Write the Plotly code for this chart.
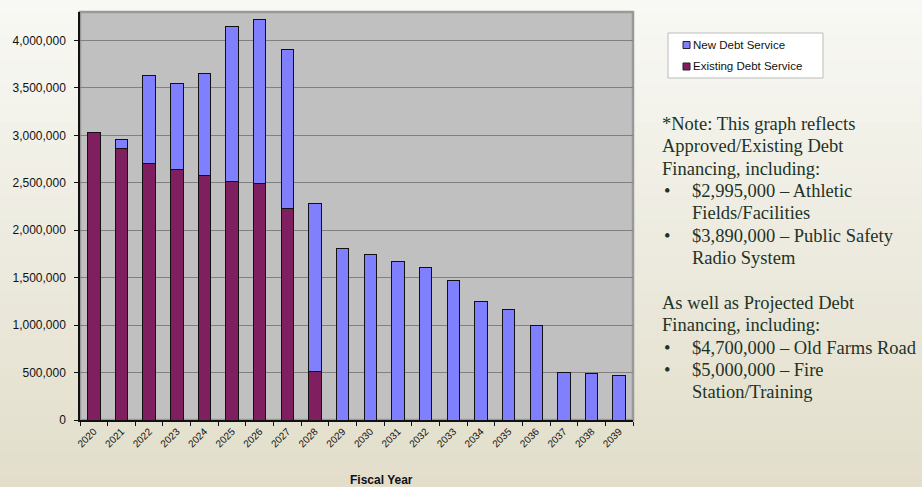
import plotly.graph_objects as go

years = [str(y) for y in range(2020, 2040)]
existing = [3030000, 2866000, 2705000, 2642000, 2579000, 2512000, 2491000, 2224000, 509000,
            None, None, None, None, None, None, None, None, None, None, None]
new = [None, 95000, 927000, 909000, 1074000, 1639000, 1730000, 1678000, 1768000,
       1807000, 1740000, 1674000, 1611000, 1470000, 1246000, 1161000, 993000, 505000, 488000, 470000]
tick_vals = [0, 500000, 1000000, 1500000, 2000000, 2500000, 3000000, 3500000, 4000000]
series_names = ["New Debt Service", "Existing Debt Service"]
series_colors = ["#8080FF", "#7F1F5F"]

note_lines = [
    ("", "*Note: This graph reflects"),
    ("", "Approved/Existing Debt"),
    ("", "Financing, including:"),
    ("•", "$2,995,000 – Athletic"),
    ("", "Fields/Facilities"),
    ("•", "$3,890,000 – Public Safety"),
    ("", "Radio System"),
    (None, ""),
    ("", "As well as Projected Debt"),
    ("", "Financing, including:"),
    ("•", "$4,700,000 – Old Farms Road"),
    ("•", "$5,000,000 – Fire"),
    ("", "Station/Training"),
]

W, H = 922, 487
L, R, T, B = 80, 289, 12, 67
PW, PH = W - L - R, H - T - B


def px_x(x):
    return (x - L) / PW


def px_y(y):
    return 1 - (y - T) / PH


fig = go.Figure()
fig.add_trace(go.Bar(x=years, y=existing, name=series_names[1],
                     marker=dict(color=series_colors[1], line=dict(color="#111111", width=1))))
fig.add_trace(go.Bar(x=years, y=new, name=series_names[0],
                     marker=dict(color=series_colors[0], line=dict(color="#111111", width=1))))

shapes = []
# page gradient background
n = 40
c0 = (248, 248, 244)
c1 = (226, 222, 203)
y_top, y_bot = px_y(0), px_y(H)
for i in range(n):
    t = i / (n - 1)
    col = tuple(round(c0[k] + (c1[k] - c0[k]) * t) for k in range(3))
    ya = y_top - (y_top - y_bot) * i / n
    yb = y_top - (y_top - y_bot) * (i + 1) / n
    shapes.append(dict(type="rect", xref="paper", yref="paper", layer="below",
                       x0=px_x(-5), x1=px_x(W + 5),
                       y0=yb - 0.002 if i < n - 1 else yb - 0.05,
                       y1=ya if i > 0 else ya + 0.05,
                       fillcolor="rgb(%d,%d,%d)" % col, line=dict(width=0)))
# plot area
shapes.append(dict(type="rect", xref="x domain", yref="y domain", layer="below",
                   x0=0, x1=1, y0=0, y1=1, fillcolor="#C0C0C0",
                   line=dict(color="#999999", width=2.5)))
# manual legend box
shapes.append(dict(type="rect", xref="paper", yref="paper", layer="above",
                   x0=px_x(668), x1=px_x(823), y0=px_y(78), y1=px_y(33),
                   fillcolor="#FFFFFF", line=dict(color="#BBBBBB", width=1)))

annotations = []
leg_y = [45, 66.5]
for name, col, yy in zip(series_names, series_colors, leg_y):
    shapes.append(dict(type="rect", xref="paper", yref="paper", layer="above",
                       x0=px_x(683), x1=px_x(690), y0=px_y(yy + 3.5), y1=px_y(yy - 3.5),
                       fillcolor=col, line=dict(color="#222222", width=1)))
    annotations.append(dict(xref="paper", yref="paper", x=px_x(691), y=px_y(yy), text=name,
                            showarrow=False, xanchor="left", yanchor="middle",
                            font=dict(family="Liberation Sans", size=11.5, color="#111111")))

# note text
y_start = 124
lh = 22.35
fs = 18.5
prev_bullet = False
for i, (b, txt) in enumerate(note_lines):
    if b is None:
        prev_bullet = False
        continue
    ypx = y_start + i * lh
    if b == "•":
        annotations.append(dict(xref="paper", yref="paper", x=px_x(662), y=px_y(ypx),
                                text="•", showarrow=False, xanchor="left", yanchor="middle",
                                font=dict(family="Liberation Serif", size=fs, color="#1E3326")))
    indent = b == "•" or prev_bullet
    annotations.append(dict(xref="paper", yref="paper", x=px_x(690 if indent else 660), y=px_y(ypx),
                            text=txt, showarrow=False, xanchor="left", yanchor="middle",
                            font=dict(family="Liberation Serif", size=fs, color="#1E3326")))
    prev_bullet = b == "•"

annotations.append(dict(xref="paper", yref="paper", x=px_x(381), y=px_y(480),
                        text="<b>Fiscal Year</b>", showarrow=False,
                        xanchor="center", yanchor="middle",
                        font=dict(family="Liberation Sans", size=12, color="#111111")))

fig.update_layout(
    shapes=shapes, annotations=annotations,
    width=W, height=H,
    margin=dict(l=L, r=R, t=T, b=B, pad=0),
    barmode="stack", bargap=0.55,
    paper_bgcolor="rgba(0,0,0,0)", plot_bgcolor="rgba(0,0,0,0)",
    font=dict(family="Liberation Sans", color="#111111"),
    showlegend=False,
    xaxis=dict(type="category", tickangle=-45, tickfont=dict(size=10, color="#111111"),
               showline=True, linecolor="#111111", linewidth=1.5,
               ticks="outside", tickson="boundaries", ticklen=4, tickcolor="#111111",
               showgrid=False),
    yaxis=dict(range=[0, 4300000], tickvals=tick_vals, tickformat=",d",
               tickfont=dict(size=12, color="#111111"),
               showline=True, linecolor="#111111", linewidth=1.5,
               ticks="outside", ticklen=4, tickcolor="#111111", ticklabelstandoff=6,
               gridcolor="#808080", gridwidth=1, zeroline=False),
)

fig.write_html("out.html", config={"displayModeBar": False},
               post_script="document.body.style.margin='0';document.body.style.overflow='hidden';")
